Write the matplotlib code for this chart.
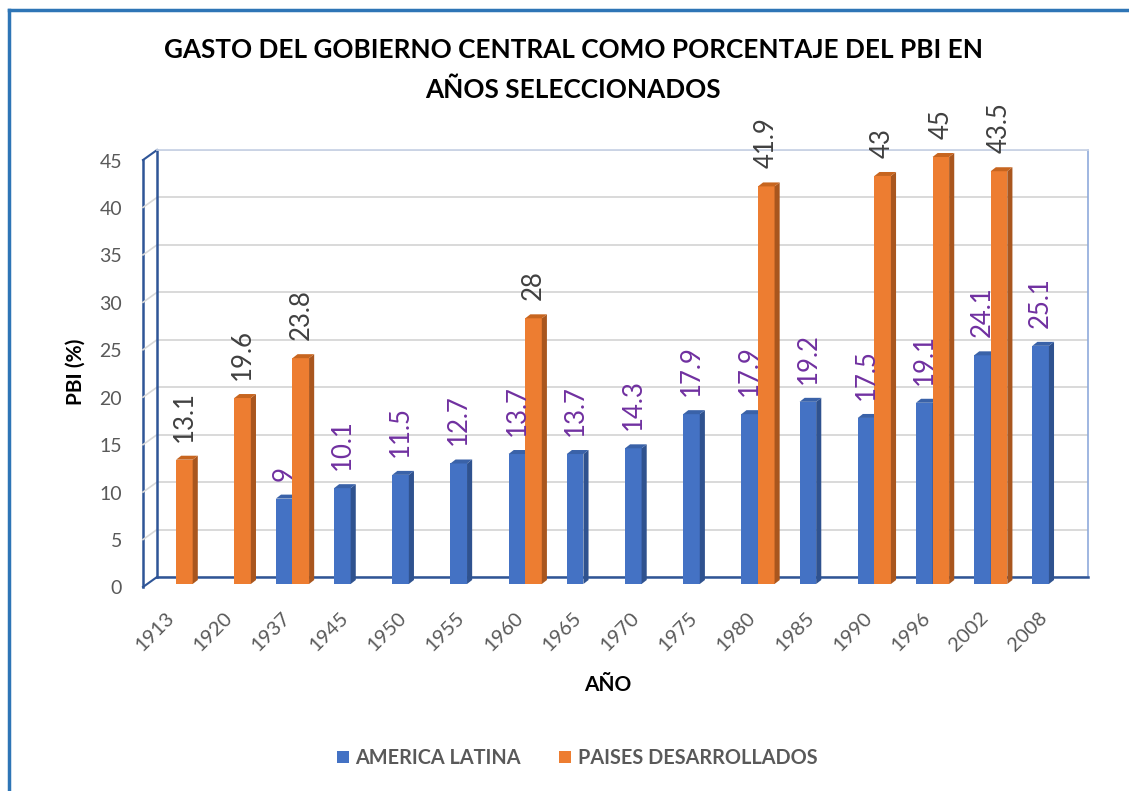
"""
Gasto del gobierno central como % del PBI: America Latina vs paises desarrollados.
Bar chart drawn with a fake 3D look (Excel style).
"""

import matplotlib
matplotlib.use('Agg')
import matplotlib.pyplot as plt
from matplotlib.transforms import offset_copy
from matplotlib.patches import Polygon, Patch
from matplotlib.lines import Line2D
import numpy as np

nan = np.nan

YEARS = ['1913', '1920', '1937', '1945', '1950', '1955', '1960', '1965',
         '1970', '1975', '1980', '1985', '1990', '1996', '2002', '2008']
AMERICA_LATINA = [nan, nan, 9, 10.1, 11.5, 12.7, 13.7, 13.7,
                  14.3, 17.9, 17.9, 19.2, 17.5, 19.1, 24.1, 25.1]
PAISES_DESARROLLADOS = [13.1, 19.6, 23.8, nan, nan, nan, 28, nan,
                        nan, nan, 41.9, nan, 43, 45, 43.5, nan]
Y_TICKS = [0, 5, 10, 15, 20, 25, 30, 35, 40, 45]

C = {
    'BLUE': '#4472C4', 'BLUE_SIDE': '#2F528F', 'BLUE_TOP': '#3A62A8',
    'ORANGE': '#ED7D31', 'ORANGE_SIDE': '#A9561E', 'ORANGE_TOP': '#C7651F',
    'AXIS': '#2F5597', 'GRID': '#D9D9D9', 'TICK': '#595959',
    'LBL_AL': '#7030A0', 'LBL_PD': '#404040', 'BORDER': '#2E75B6',
}

W, H = 1129, 791
plt.rcParams['font.family'] = ['Lato', 'DejaVu Sans']


def fx(px):
    return px / W


def fy(py):
    return 1 - py / H


fig = plt.figure(figsize=(W / 100, H / 100), dpi=100)
fig.patch.set_facecolor('white')

# back wall of the plot
left, right, top, bottom = 157, 1088, 150, 577
ax = fig.add_axes([fx(left), fy(bottom), (right - left) / W, (bottom - top) / H])
ax.set_xlim(-0.5, len(YEARS) - 0.5)
ax.set_ylim(0, 45)
ax.set_yticks(Y_TICKS)
ax.set_xticks(np.arange(len(YEARS)))
ax.tick_params(length=0, labelleft=False, labelbottom=False)
ax.yaxis.grid(True, color=C['GRID'], lw=1.4)
ax.set_axisbelow(True)
for s in ['left', 'bottom']:
    ax.spines[s].set_color(C['AXIS'])
    ax.spines[s].set_linewidth(1.8)
ax.spines['right'].set_color('#8FAADC')
ax.spines['right'].set_linewidth(1.2)
ax.spines['top'].set_color('#C9D3E6')
ax.spines['top'].set_linewidth(1.3)

# front edge of the left wall
FRONT_DX, FRONT_DY = -14, -10
dxa, dya = FRONT_DX / (right - left), FRONT_DY / (bottom - top)
ax.plot([dxa, dxa], [dya, 1 + dya], transform=ax.transAxes, color=C['AXIS'],
        lw=1.8, clip_on=False)
for v in Y_TICKS:
    t = v / 45
    col = C['AXIS'] if v in (0, 45) else C['GRID']
    ax.plot([dxa, 0], [t + dya, t], transform=ax.transAxes, color=col,
            lw=1.5 if v in (0, 45) else 1.2, clip_on=False)

# y tick labels on the front edge
ytr = offset_copy(ax.get_yaxis_transform(), fig=fig, x=-35, y=-12, units='dots')
for v in Y_TICKS:
    ax.text(0, v, str(v), transform=ytr, ha='right', va='center',
            fontsize=14, color=C['TICK'])

# x tick labels
xtr = offset_copy(ax.get_xaxis_transform(), fig=fig, x=-9, y=-32, units='dots')
for i, yr in enumerate(YEARS):
    ax.text(i, 0, yr, transform=xtr, ha='right', va='top', rotation=45,
            fontsize=14.5, color=C['TICK'])

# bars (front plane shifted from the back wall)
BAR_W = 0.285
DEPTH_X, DEPTH_Y = 0.088, 0.42
bar_tr = offset_copy(ax.transData, fig=fig, x=-10, y=-7, units='dots')
lbl_tr = offset_copy(ax.transData, fig=fig, x=-10, y=11, units='dots')
x = np.arange(len(YEARS))

series = [
    (AMERICA_LATINA, x - BAR_W, 'AMERICA LATINA', C['BLUE'], C['BLUE_SIDE'], C['BLUE_TOP'], C['LBL_AL']),
    (PAISES_DESARROLLADOS, x, 'PAISES DESARROLLADOS', C['ORANGE'], C['ORANGE_SIDE'], C['ORANGE_TOP'], C['LBL_PD']),
]

for vals, xl, label, face, side, topc, lblc in series:
    bars = ax.bar(xl, vals, BAR_W, align='edge', color=face, label=label, zorder=3)
    for xi, v, p in zip(xl, vals, bars):
        p.set_transform(bar_tr)
        p.set_clip_on(False)
        if np.isnan(v):
            continue
        side_poly = Polygon([(xi + BAR_W, 0), (xi + BAR_W + DEPTH_X, DEPTH_Y),
                             (xi + BAR_W + DEPTH_X, v + DEPTH_Y), (xi + BAR_W, v)],
                            closed=True, facecolor=side, edgecolor='none',
                            transform=bar_tr, clip_on=False, zorder=3)
        top_poly = Polygon([(xi, v), (xi + DEPTH_X, v + DEPTH_Y),
                            (xi + BAR_W + DEPTH_X, v + DEPTH_Y), (xi + BAR_W, v)],
                           closed=True, facecolor=topc, edgecolor='none',
                           transform=bar_tr, clip_on=False, zorder=3)
        ax.add_patch(side_poly)
        ax.add_patch(top_poly)
        txt = f'{v:g}'
        ax.text(xi + BAR_W / 2, v, txt, transform=lbl_tr, rotation=90,
                ha='center', va='bottom', fontsize=18.5, color=lblc, zorder=4)

# Titles and axis labels
fig.text(fx(573), fy(50), 'GASTO DEL GOBIERNO CENTRAL COMO PORCENTAJE DEL PBI EN',
         ha='center', va='center', fontsize=18.8, fontweight='bold', color='black')
fig.text(fx(573), fy(90), 'AÑOS SELECCIONADOS',
         ha='center', va='center', fontsize=18.8, fontweight='bold', color='black')
fig.text(fx(608), fy(685), 'AÑO', ha='center', va='center', fontsize=15,
         fontweight='bold', color='black')
fig.text(fx(76), fy(372), 'PBI (%)', ha='center', va='center', rotation=90,
         fontsize=15, fontweight='bold', color='black')

# Legend
handles = [Patch(facecolor=C['BLUE']), Patch(facecolor=C['ORANGE'])]
fig.legend(handles, [s[2] for s in series], ncol=2, loc='center',
           bbox_to_anchor=(fx(577), fy(758)), frameon=False,
           prop={'size': 14.3, 'weight': 'bold'},
           handlelength=0.6, handleheight=0.6, handletextpad=0.35,
           columnspacing=1.9, labelcolor=C['TICK'])

# outer frame (top and left only, screenshot crop)
fig.add_artist(Line2D([fx(9), fx(9)], [fy(10), 0], color=C['BORDER'], lw=2.5))
fig.add_artist(Line2D([fx(9), 1], [fy(10), fy(10)], color=C['BORDER'], lw=2.5))

fig.savefig('out.png', dpi=100, facecolor='white')
plt.close(fig)
